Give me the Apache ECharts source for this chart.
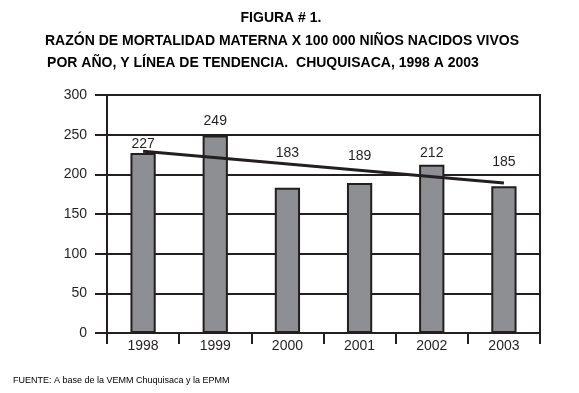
<!DOCTYPE html>
<html>
<head>
<meta charset="utf-8">
<script src="https://cdn.jsdelivr.net/npm/echarts@6/dist/echarts.min.js"></script>
<style>
  html, body { margin: 0; padding: 0; background: #fff; }
  #main { width: 579px; height: 393px; }
</style>
</head>
<body>
<div id="main"></div>
<script>
// data
var years = ['1998', '1999', '2000', '2001', '2002', '2003'];
var razon = [227, 249, 183, 189, 212, 185];
// trend line end points (first and last year)
var trendEnds = [229, 189];
var yTicks = [0, 50, 100, 150, 200, 250, 300];

// label gap above each bar (labels sit at uneven heights in the original)
var labelGap = [2, 7, 28, 20, 5, 17];

var ink = '#231f20';

var barData = [];
for (var i = 0; i < razon.length; i++) {
    barData.push({
        value: razon[i],
        label: { distance: labelGap[i] }
    });
}

var trendData = [];
for (var i = 0; i < years.length; i++) {
    trendData.push('-');
}
trendData[0] = trendEnds[0];
trendData[years.length - 1] = trendEnds[1];

var myChart = echarts.init(document.getElementById('main'));

var option = {
    animation: false,
    textStyle: { fontFamily: 'Liberation Sans, Arial, sans-serif' },
    title: [
        {
            text: 'FIGURA # 1.',
            left: 276, top: 6, textAlign: 'center',
            textStyle: { fontSize: 14, fontWeight: 'bold', color: '#000' }
        },
        {
            text: 'RAZÓN DE MORTALIDAD MATERNA X 100 000 NIÑOS NACIDOS VIVOS',
            left: 277, top: 29, textAlign: 'center',
            textStyle: { fontSize: 14, fontWeight: 'bold', color: '#000' }
        },
        {
            text: 'POR AÑO, Y LÍNEA DE TENDENCIA.  CHUQUISACA, 1998 A 2003',
            left: 258, top: 51, textAlign: 'center',
            textStyle: { fontSize: 14, fontWeight: 'bold', color: '#000' }
        },
        {
            text: 'FUENTE: A base de la VEMM Chuquisaca y la EPMM',
            left: 8, top: 371,
            textStyle: { fontSize: 9, fontWeight: 'normal', color: '#000' }
        }
    ],
    grid: {
        left: 107, right: 39, top: 95, bottom: 60,
        show: true,
        borderColor: ink,
        borderWidth: 2,
        backgroundColor: 'transparent'
    },
    xAxis: {
        type: 'category',
        data: years,
        boundaryGap: true,
        axisLine: { lineStyle: { color: ink, width: 2 } },
        axisTick: { show: true, length: 11, lineStyle: { color: ink, width: 2 } },
        axisLabel: { color: ink, fontSize: 14, margin: 6 }
    },
    yAxis: {
        type: 'value',
        min: yTicks[0],
        max: yTicks[yTicks.length - 1],
        interval: yTicks[1] - yTicks[0],
        axisLine: { show: true, lineStyle: { color: ink, width: 2 } },
        axisTick: { show: true, length: 12, lineStyle: { color: ink, width: 2 } },
        axisLabel: { color: ink, fontSize: 14, margin: 20 },
        splitLine: { show: true, lineStyle: { color: ink, width: 2 } }
    },
    series: [
        {
            name: 'Razón',
            type: 'bar',
            data: barData,
            barWidth: '35%',
            itemStyle: { color: '#8e8f92', borderColor: ink, borderWidth: 2 },
            label: {
                show: true,
                position: 'top',
                color: ink,
                fontSize: 14
            }
        },
        {
            name: 'Tendencia',
            type: 'line',
            data: trendData,
            connectNulls: true,
            symbol: 'none',
            lineStyle: { color: ink, width: 3 },
            z: 5
        }
    ]
};

myChart.setOption(option);
</script>
</body>
</html>
